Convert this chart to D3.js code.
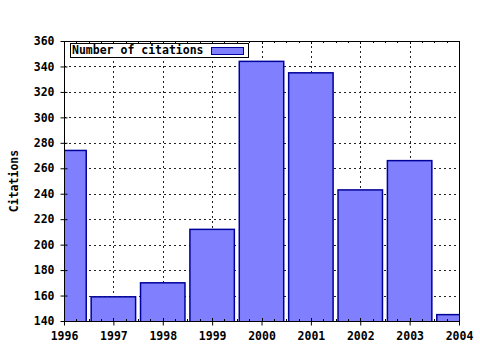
<!DOCTYPE html>
<html>
<head>
<meta charset="utf-8">
<script src="https://cdn.jsdelivr.net/npm/d3@7/dist/d3.min.js"></script>
<style>
  body { margin: 0; background: #fff; }
  text { font-family: "DejaVu Sans Mono", monospace; font-weight: bold; font-size: 11.5px; fill: #000; }
</style>
</head>
<body>
<svg id="chart" width="480" height="350"></svg>
<script>
// data
const years = [1996, 1997, 1998, 1999, 2000, 2001, 2002, 2003, 2004];
const citations = [274, 159, 170, 212, 344, 335, 243, 266, 145];
const yTicks = [140, 160, 180, 200, 220, 240, 260, 280, 300, 320, 340, 360];
const seriesName = "Number of citations";

// layout
const width = 480, height = 350;
const margin = {top: 41, right: 21, bottom: 29, left: 64};
const iw = width - margin.left - margin.right;
const ih = height - margin.top - margin.bottom;

const svg = d3.select('#chart');

const defs = svg.append('defs');
defs.append('clipPath').attr('id', 'plot-clip')
  .append('rect').attr('width', iw).attr('height', ih);

const g = svg.append('g').attr('transform', `translate(${margin.left},${margin.top})`);

const x = d3.scaleLinear().domain([1996, 2004]).range([0, iw]);
const y = d3.scaleLinear().domain([140, 360]).range([ih, 0]);
const step = x(1997) - x(1996);
const barW = step * 0.9;

// grid
g.append('g').selectAll('line').data(yTicks.slice(1, -1)).join('line')
  .attr('x1', 0).attr('x2', iw)
  .attr('y1', d => Math.round(y(d)) + 0.5).attr('y2', d => Math.round(y(d)) + 0.5)
  .attr('stroke', '#222').attr('stroke-dasharray', '2,3');
g.append('g').selectAll('line').data(years.slice(1, -1)).join('line')
  .attr('y1', 0).attr('y2', ih)
  .attr('x1', d => Math.round(x(d)) + 0.5).attr('x2', d => Math.round(x(d)) + 0.5)
  .attr('stroke', '#222').attr('stroke-dasharray', '2,3');

// bars
g.append('g').attr('clip-path', 'url(#plot-clip)')
  .selectAll('rect').data(years).join('rect')
  .attr('x', (d) => x(d) - barW / 2)
  .attr('width', barW)
  .attr('y', (d, i) => y(citations[i]))
  .attr('height', (d, i) => ih - y(citations[i]) + 2)
  .attr('fill', '#8080ff')
  .attr('stroke', '#00009a')
  .attr('stroke-width', 1.5);

// frame
g.append('rect').attr('x', 0.5).attr('y', 0.5).attr('width', iw).attr('height', ih)
  .attr('fill', 'none').attr('stroke', '#000');

// minor ticks (quarter years) on top and bottom
const minor = d3.range(1996, 2004.01, 0.25);
g.append('g').selectAll('line').data(minor).join('line')
  .attr('x1', d => Math.round(x(d)) + 0.5).attr('x2', d => Math.round(x(d)) + 0.5)
  .attr('y1', ih).attr('y2', d => ih - (Number.isInteger(d) ? 3 : 2))
  .attr('stroke', '#000');
g.append('g').selectAll('line').data(minor).join('line')
  .attr('x1', d => Math.round(x(d)) + 0.5).attr('x2', d => Math.round(x(d)) + 0.5)
  .attr('y1', 0).attr('y2', d => (Number.isInteger(d) ? 3 : 2))
  .attr('stroke', '#000');

// x axis
const xAxis = d3.axisBottom(x).tickValues(years).tickFormat(d3.format('d')).tickSize(4).tickPadding(6);
const xg = g.append('g').attr('transform', `translate(0,${ih + 0.5})`).call(xAxis);
xg.select('.domain').remove();

// y axis
const yAxis = d3.axisLeft(y).tickValues(yTicks).tickSize(4).tickPadding(6);
const yg = g.append('g').attr('transform', 'translate(0.5,0)').call(yAxis);
yg.select('.domain').remove();
yg.selectAll('.tick line').attr('x2', -4).attr('x1', 3);

svg.selectAll('.tick text').style('font-size', '11.5px').attr('fill', '#000');

// y label
svg.append('text')
  .attr('transform', `translate(18,${margin.top + ih / 2}) rotate(-90)`)
  .attr('text-anchor', 'middle')
  .text('Citations');

// legend
const lg = g.append('g').attr('transform', 'translate(6,2)');
lg.append('rect').attr('x', 0.5).attr('y', 0.5).attr('width', 178).attr('height', 14)
  .attr('fill', '#fff').attr('stroke', '#000');
lg.append('text').attr('x', 2).attr('y', 11).text(seriesName);
lg.append('rect').attr('x', 141.5).attr('y', 4.5).attr('width', 32).attr('height', 7)
  .attr('fill', '#8080ff').attr('stroke', '#00009a');
</script>
</body>
</html>
